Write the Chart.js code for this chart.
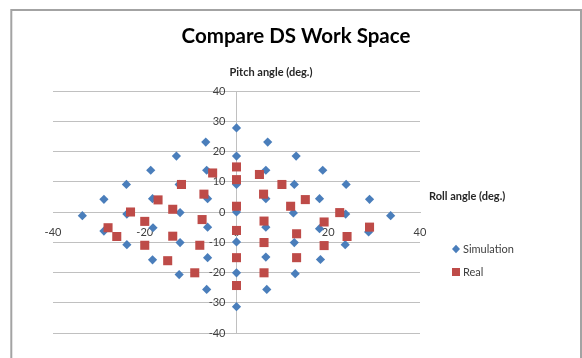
<!DOCTYPE html>
<html>
<head>
<meta charset="utf-8">
<title>Compare DS Work Space</title>
<script src="https://cdn.jsdelivr.net/npm/chart.js@4/dist/chart.umd.min.js"></script>
<style>
  html, body { margin: 0; padding: 0; background: #ffffff; }
  canvas { display: block; }
</style>
</head>
<body>
<canvas id="chart" width="582" height="358"></canvas>
<script>
// Simulated work space (roll, pitch) in degrees
const simRoll = [
  0, 0, 0, 0, 0, 0, 0,
  -6.7, -6.5, -6.3, -6.3, -6.3, -6.5,
  6.8, 6.4, 6.4, 6.4, 6.4, 6.6,
  -13.1, -12.5, -12.3, -12.3, -12.5,
  13.0, 12.6, 12.4, 12.6, 12.8,
  -18.7, -18.3, -18.2, -18.3,
  18.8, 18.1, 18.1, 18.3,
  -24.0, -23.9, -23.9,
  23.9, 23.8, 23.7,
  -28.9, -28.9,
  29.0, 28.8,
  -33.6, 33.6
];
const simPitch = [
  27.8, 18.5, 9.1, 0, -9.9, -20.1, -31.3,
  23.1, 13.8, 4.4, -5.0, -15.1, -25.6,
  23.1, 13.8, 4.4, -5.0, -14.9, -25.6,
  18.5, 9.1, -0.2, -10.1, -20.7,
  18.5, 9.1, -0.3, -10.1, -20.4,
  13.8, 4.4, -5.2, -15.8,
  13.8, 4.4, -5.5, -15.7,
  9.1, -0.7, -10.8,
  9.1, -0.7, -10.8,
  4.2, -6.3,
  4.2, -6.6,
  -1.2, -1.2
];

// Measured work space (roll, pitch) in degrees
const realRoll = [
  -5.2, -12.0, -7.1, -17.1, -13.9, -23.1, -20.0, -7.5, -28.0, -26.1, -13.9, -20.0, -8.0, -15.0, -9.1,
  0, 0, 0, 0, 0, 0,
  5.0, 9.9, 5.9, 15.0, 11.8, 22.5, 6.0, 19.1, 13.1, 24.1, 29.0, 6.0, 19.1, 13.1, 6.0
];
const realPitch = [
  12.9, 9.1, 5.9, 4.0, 0.9, 0.0, -3.1, -2.5, -5.2, -8.1, -8.0, -11.0, -11.0, -16.1, -20.1,
  14.9, 10.7, 1.9, -6.1, -15.1, -24.3,
  12.4, 9.1, 5.9, 4.1, 1.9, -0.2, -3.0, -3.3, -7.2, -8.1, -5.0, -10.1, -11.1, -15.1, -20.1
];

const seriesNames = ['Simulation', 'Real'];
const chartTitle = 'Compare DS Work Space';
const xAxisTitle = 'Roll angle (deg.)';
const yAxisTitle = 'Pitch angle (deg.)';
const axisMin = -40;
const axisMax = 40;
const xStep = 20;
const yStep = 10;

const FONT = 'Lato, "Open Sans", "DejaVu Sans", sans-serif';
const BLUE = '#4a7ebb';
const RED = '#be4b48';
const TEXT = '#404040';
const GRID = '#c0c0c0';

const toPoints = (xs, ys) => xs.map((x, i) => ({ x: x, y: ys[i] }));

// Outer frame, chart title, axis titles and the legend
const decorations = {
  id: 'decorations',
  beforeDraw(chart) {
    const ctx = chart.ctx;
    ctx.save();
    ctx.strokeStyle = '#a3a3a3';
    ctx.lineWidth = 2;
    ctx.strokeRect(11.3, 10, 569.7, 360);
    ctx.restore();
  },
  afterDraw(chart) {
    const ctx = chart.ctx;
    const area = chart.chartArea;
    const xs = chart.scales.x;
    const ys = chart.scales.y;
    const x0 = xs.getPixelForValue(0);
    const y0 = ys.getPixelForValue(0);
    ctx.save();

    // chart title, centred in the frame
    ctx.fillStyle = '#000000';
    ctx.font = 'bold 20.5px ' + FONT;
    ctx.textAlign = 'center';
    ctx.textBaseline = 'middle';
    ctx.fillText(chartTitle, 296, 36);

    // axis titles
    ctx.fillStyle = '#262626';
    ctx.font = 'bold 11px ' + FONT;
    ctx.textAlign = 'left';
    ctx.fillText(yAxisTitle, x0 - 7, area.top - 19);
    ctx.fillText(xAxisTitle, area.right + 9, y0 - 16);

    // legend
    ctx.font = '11px ' + FONT;
    const lx = 456;
    let ly = 249;
    chart.data.datasets.forEach((ds) => {
      ctx.fillStyle = ds.backgroundColor;
      ctx.beginPath();
      if (ds.pointStyle === 'rectRot') {
        ctx.moveTo(lx, ly - 4.2);
        ctx.lineTo(lx + 4, ly);
        ctx.lineTo(lx, ly + 4.2);
        ctx.lineTo(lx - 4, ly);
        ctx.closePath();
      } else {
        ctx.rect(lx - 4, ly - 4, 8, 8);
      }
      ctx.fill();
      ctx.fillStyle = TEXT;
      ctx.fillText(ds.label, lx + 7, ly + 0.5);
      ly += 23;
    });
    ctx.restore();
  }
};

new Chart(document.getElementById('chart'), {
  type: 'scatter',
  data: {
    datasets: [
      {
        label: seriesNames[0],
        data: toPoints(simRoll, simPitch),
        pointStyle: 'rectRot',
        pointRadius: 4.6,
        pointHoverRadius: 4.6,
        pointBorderWidth: 0,
        backgroundColor: BLUE,
        borderColor: BLUE,
        order: 1
      },
      {
        label: seriesNames[1],
        data: toPoints(realRoll, realPitch),
        pointStyle: 'rect',
        pointRadius: 6.4,
        pointHoverRadius: 6.4,
        pointBorderWidth: 0,
        backgroundColor: RED,
        borderColor: RED,
        order: 0
      }
    ]
  },
  options: {
    responsive: false,
    animation: false,
    events: [],
    layout: { padding: { left: 53, right: 162, top: 91, bottom: 25 } },
    plugins: {
      legend: { display: false },
      tooltip: { enabled: false },
      title: { display: false }
    },
    scales: {
      x: {
        type: 'linear',
        position: 'center',
        min: axisMin,
        max: axisMax,
        grid: { display: false, drawTicks: false },
        border: { display: true, color: GRID, width: 1 },
        ticks: {
          stepSize: xStep,
          padding: 14,
          color: TEXT,
          font: { family: FONT, size: 11 }
        }
      },
      y: {
        type: 'linear',
        position: 'center',
        min: axisMin,
        max: axisMax,
        grid: { display: true, drawTicks: false, color: GRID, lineWidth: 1 },
        border: { display: true, color: GRID, width: 1 },
        ticks: {
          stepSize: yStep,
          padding: 11,
          color: TEXT,
          font: { family: FONT, size: 11 }
        }
      }
    }
  },
  plugins: [decorations]
});
</script>
</body>
</html>
